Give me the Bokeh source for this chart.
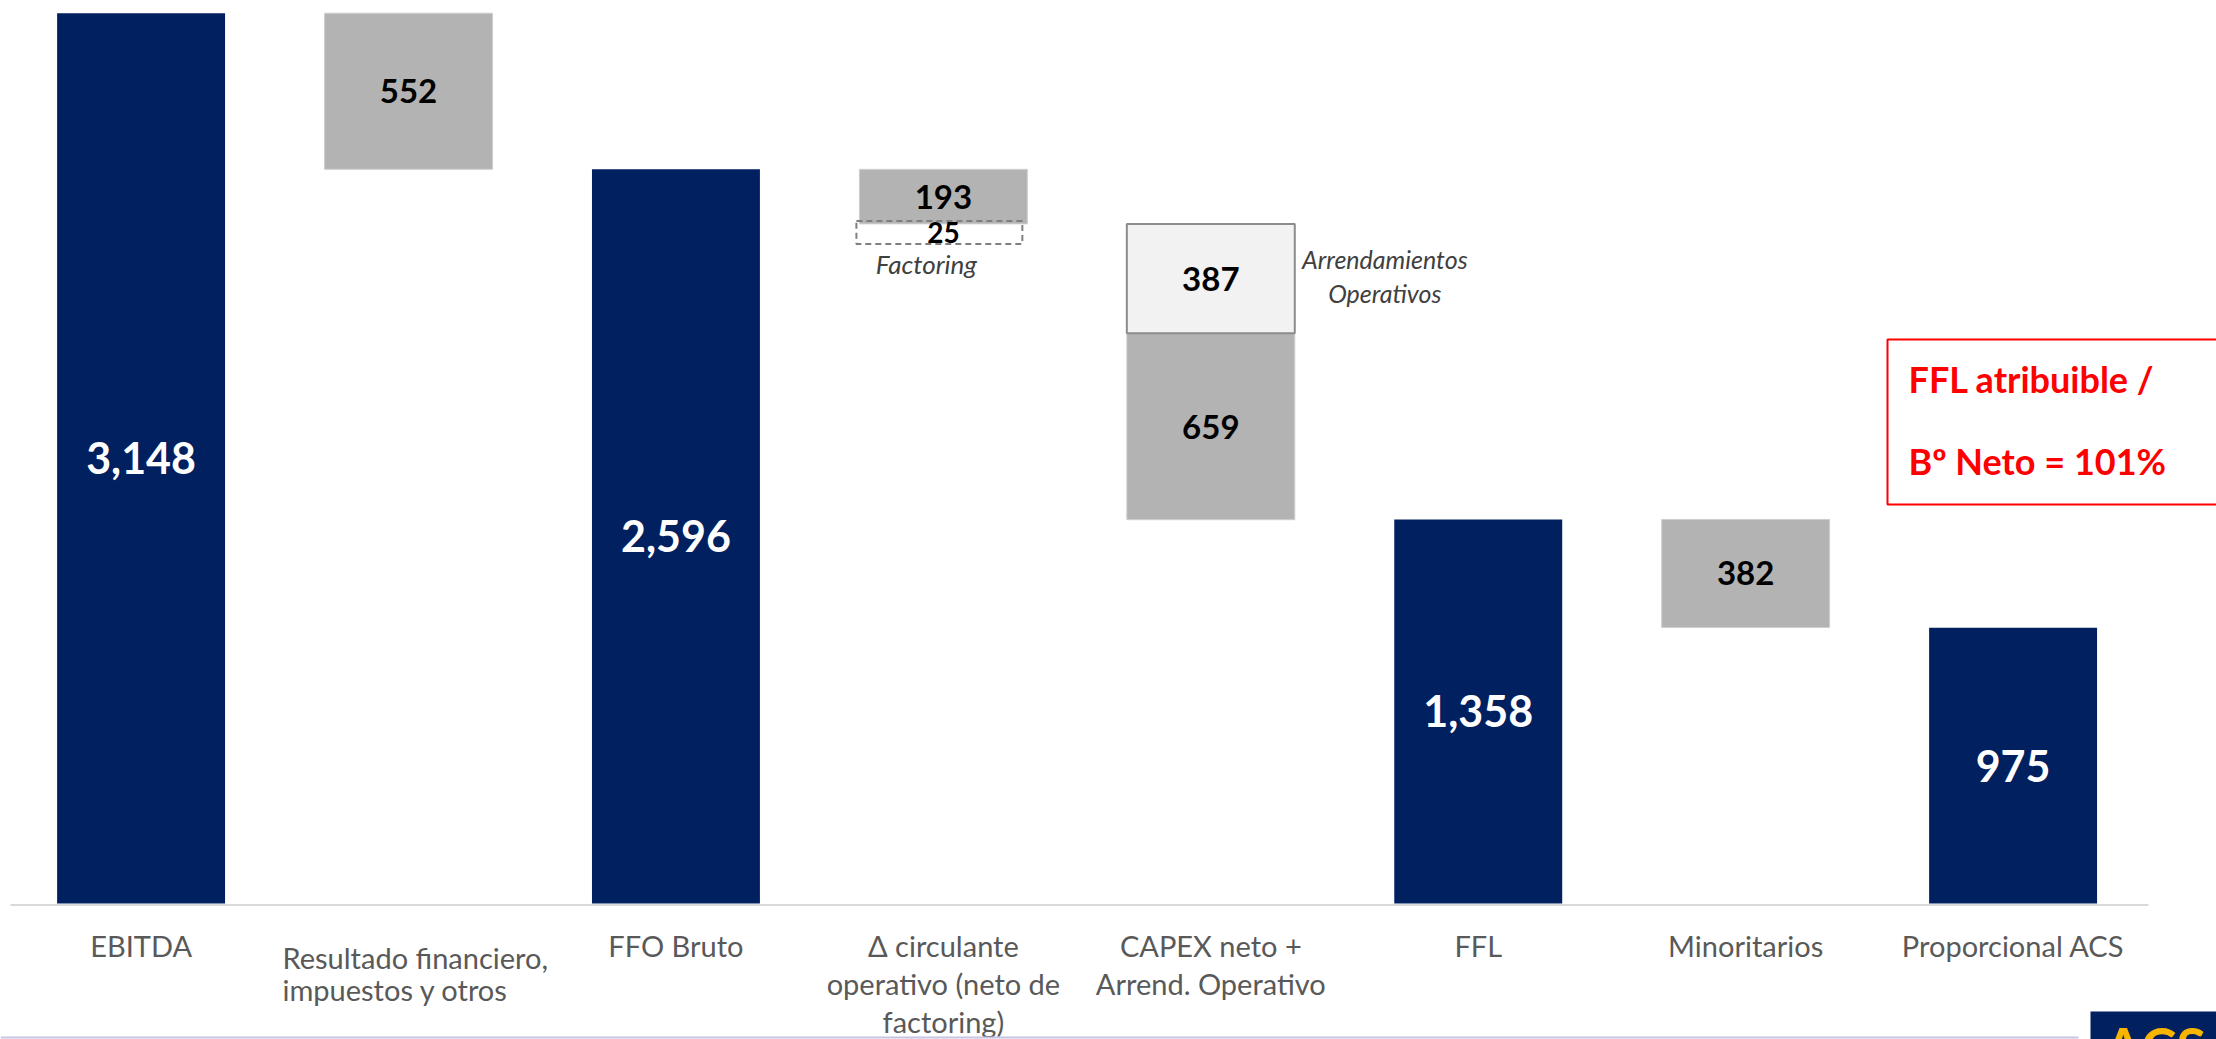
from bokeh.plotting import figure
from bokeh.models import Range1d
from bokeh.embed import file_html
from bokeh.resources import INLINE
from bokeh.core.properties import value

# ---------------- data ----------------
categories = [
    "EBITDA",
    "Resultado financiero,\nimpuestos y otros",
    "FFO Bruto",
    "Δ circulante\noperativo (neto de\nfactoring)",
    "CAPEX neto +\nArrend. Operativo",
    "FFL",
    "Minoritarios",
    "Proporcional ACS",
]
ebitda = 3148
resultado_fin = 552
ffo_bruto = 2596
circulante = 193
factoring = 25
capex_neto = 659
arrendamientos = 387
ffl = 1358
minoritarios = 382
proporcional = 975

total_idx = [0, 2, 5, 7]
total_vals = [ebitda, ffo_bruto, ffl, proporcional]

# ---------------- layout / style ----------------
W, H = 2216, 1039
X0, X1 = -0.5257, 7.7606
Y0, Y1 = -480.9, 3192.9
DX = (X1 - X0) / W      # data units per px (x)
DY = (Y1 - Y0) / H      # data units per px (y)
BW = 0.628
NAVY = "#012060"
GRAY = "#b3b3b3"
LIGHT = "#f2f2f2"
LABEL = "#595959"
FONT = value("Lato")


def px_x(px):
    return X0 + px * DX


def px_y(py):
    return Y1 - py * DY


p = figure(width=W, height=H, x_range=Range1d(X0, X1), y_range=Range1d(Y0, Y1),
           output_backend="svg", toolbar_location=None, min_border=0)
p.xaxis.visible = False
p.yaxis.visible = False
p.xgrid.visible = False
p.ygrid.visible = False
p.outline_line_color = None
p.background_fill_color = "white"
p.border_fill_color = "white"

# ---------------- waterfall geometry from data ----------------
level = ebitda
res_top, res_bot = level, level - resultado_fin
level = ffo_bruto
circ_top, circ_bot = level, level - circulante
level = circ_bot
arr_top, arr_bot = level, level - arrendamientos
cap_top, cap_bot = arr_bot, arr_bot - capex_neto
min_top, min_bot = ffl, ffl - minoritarios

# totals
p.quad(left=[i - BW / 2 for i in total_idx], right=[i + BW / 2 for i in total_idx],
       bottom=[0] * len(total_idx), top=total_vals, fill_color=NAVY, line_color=None)

# gray floating steps
g_idx = [1, 3, 4, 6]
g_top = [res_top, circ_top, cap_top, min_top]
g_bot = [res_bot, circ_bot, cap_bot, min_bot]
g_val = [resultado_fin, circulante, capex_neto, minoritarios]
p.quad(left=[i - BW / 2 for i in g_idx], right=[i + BW / 2 for i in g_idx],
       bottom=g_bot, top=g_top, fill_color=GRAY, line_color="#cfcfcf", line_width=1)

# operating leases (light box)
p.quad(left=[4 - BW / 2], right=[4 + BW / 2], bottom=[arr_bot], top=[arr_top],
       fill_color=LIGHT, line_color="#8c8c8c", line_width=2)

# factoring dashed box (annotation box, not to scale)
p.quad(left=[3 - BW / 2 - 3 * DX], right=[3 + BW / 2 - 5 * DX],
       bottom=[circ_bot - 20 * DY], top=[circ_bot + 3 * DY],
       fill_color=None, line_color="#7f7f7f", line_width=2, line_dash="6 4")

# baseline
p.segment(x0=[px_x(10)], x1=[px_x(2148)], y0=[-1.5 * DY], y1=[-1.5 * DY],
          line_color="#d9d9d9", line_width=2)

# ---------------- value labels ----------------
p.text(x=total_idx, y=[v / 2 for v in total_vals], text=[f"{v:,}" for v in total_vals],
       text_font=FONT, text_font_size="43px", text_font_style="bold", text_color="white",
       text_align="center", text_baseline="middle")
p.text(x=g_idx, y=[(a + b) / 2 for a, b in zip(g_top, g_bot)], text=[f"{v:,}" for v in g_val],
       text_font=FONT, text_font_size="33px", text_font_style="bold", text_color="black",
       text_align="center", text_baseline="middle")
p.text(x=[4], y=[(arr_top + arr_bot) / 2], text=[f"{arrendamientos:,}"],
       text_font=FONT, text_font_size="33px", text_font_style="bold", text_color="black",
       text_align="center", text_baseline="middle")
p.text(x=[3], y=[circ_bot - 8.5 * DY], text=[f"{factoring:,}"],
       text_font=FONT, text_font_size="28px", text_font_style="bold", text_color="black",
       text_align="center", text_baseline="middle")

# italic annotations
p.text(x=[3 - 17 * DX], y=[circ_bot - 40 * DY], text=["Factoring"],
       text_font=FONT, text_font_size="26px", text_font_style="italic", text_color="#404040",
       text_align="center", text_baseline="middle")
p.text(x=[4 + 174 * DX, 4 + 174 * DX], y=[arr_top - 35 * DY, arr_top - 69 * DY],
       text=["Arrendamientos", "Operativos"],
       text_font=FONT, text_font_size="25px", text_font_style="italic", text_color="#404040",
       text_align="center", text_baseline="middle")

# ---------------- category labels ----------------
cx, cy, ct = [], [], []
lx, ly, lt = [], [], []
for i, cat in enumerate(categories):
    lines = cat.split("\n")
    if i == 1:
        for k, line in enumerate(lines):
            lx.append(i - 126 * DX)
            ly.append(-(54 + 32 * k) * DY)
            lt.append(line)
    else:
        for k, line in enumerate(lines):
            cx.append(i)
            cy.append(-(42 + 38 * k) * DY)
            ct.append(line)
p.text(x=cx, y=cy, text=ct, text_font=FONT, text_font_size="29px", text_color=LABEL,
       text_align="center", text_baseline="alphabetic")
p.text(x=lx, y=ly, text=lt, text_font=FONT, text_font_size="29px", text_color=LABEL,
       text_align="left", text_baseline="alphabetic")

# ---------------- red callout box ----------------
p.quad(left=[px_x(1887)], right=[X1 + 30 * DX], top=[px_y(339)], bottom=[px_y(504)],
       fill_color="white", line_color="#ff0000", line_width=2)
p.text(x=[px_x(1908)] * 2, y=[px_y(378), px_y(460)],
       text=["FFL atribuible /", "Bº Neto = 101%"],
       text_font=FONT, text_font_size="36px", text_font_style="bold", text_color="#ff0000",
       text_align="left", text_baseline="middle")

# ---------------- footer line & logo ----------------
p.segment(x0=[X0], x1=[px_x(2078)], y0=[px_y(1037)], y1=[px_y(1037)],
          line_color="#c5c5e3", line_width=2)
p.quad(left=[px_x(2090)], right=[X1 + 20 * DX], top=[px_y(1011)], bottom=[Y0 - 20 * DY],
       fill_color=NAVY, line_color=None)
p.text(x=[px_x(2104)], y=[px_y(1013)], text=["ACS"], text_font=FONT,
       text_font_size="54px", text_font_style="bold", text_color="#f7b500",
       text_align="left", text_baseline="top")

open("out.html", "w").write(file_html(p, INLINE))
